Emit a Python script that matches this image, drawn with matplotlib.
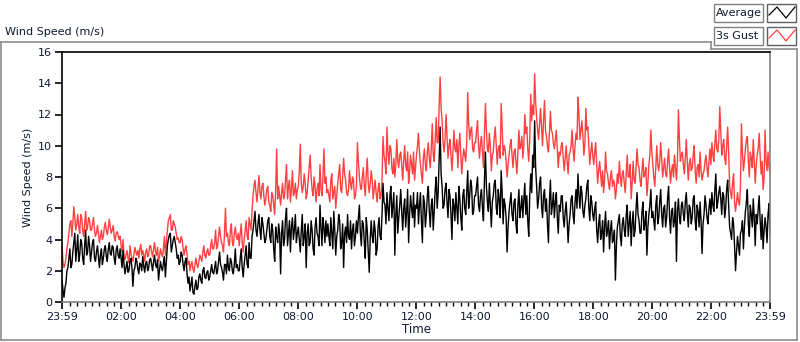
import numpy as np
import matplotlib
matplotlib.use("Agg")
import matplotlib.pyplot as plt
from matplotlib.patches import Rectangle
from matplotlib.lines import Line2D

# ---- data: 2-minute samples starting 23:59, one row per hour ----
# "a" rows hold minutes 0,4,8,...,56 of each hour, "b" rows minutes 2,6,...,58
average_a = [
    [1.4, 0.3, 1.2, 2.2, 3.4, 2.4, 3.8, 2.6, 4.3, 3.0, 3.8, 2.4, 4.6, 3.2, 3.6],
    [3.2, 4.0, 2.6, 3.6, 2.2, 3.4, 2.8, 3.6, 2.6, 3.8, 3.0, 3.5, 2.4, 3.6, 2.8],
    [2.8, 3.3, 1.8, 2.6, 2.0, 2.8, 1.0, 2.2, 2.6, 1.8, 2.4, 2.9, 1.9, 2.6, 2.2],
    [2.8, 2.0, 3.0, 2.2, 1.4, 2.6, 2.0, 2.9, 2.6, 4.0, 4.4, 3.6, 4.2, 3.4, 3.0],
    [2.6, 3.0, 2.0, 2.8, 1.2, 0.7, 1.6, 0.5, 1.4, 0.9, 1.8, 1.2, 2.2, 1.5, 2.0],
    [1.6, 2.4, 1.8, 2.6, 2.0, 3.2, 2.2, 1.4, 2.4, 3.0, 2.0, 2.6, 1.8, 3.4, 2.4],
    [2.0, 3.4, 1.6, 3.0, 2.4, 3.8, 2.8, 4.6, 5.8, 4.2, 5.6, 4.0, 5.0, 3.8, 4.6],
    [5.4, 3.8, 4.6, 2.6, 4.2, 5.0, 1.8, 5.2, 4.0, 6.0, 4.4, 3.2, 5.4, 4.6, 3.8],
    [4.8, 3.2, 5.6, 4.2, 2.2, 5.0, 3.8, 4.6, 3.0, 5.4, 4.2, 6.2, 3.6, 4.8, 5.2],
    [5.0, 3.6, 4.4, 5.8, 3.0, 4.6, 5.2, 3.8, 2.2, 4.8, 5.6, 4.0, 3.4, 5.0, 4.2],
    [4.4, 6.2, 3.6, 5.0, 2.8, 4.6, 1.9, 5.2, 3.8, 4.6, 3.4, 5.4, 4.0, 7.6, 6.2],
    [7.0, 5.2, 7.4, 6.2, 3.0, 6.8, 5.4, 7.2, 4.6, 6.6, 5.8, 3.8, 6.8, 5.4, 4.8],
    [6.0, 5.0, 7.0, 3.8, 6.4, 5.6, 7.4, 4.8, 6.6, 5.8, 8.0, 7.0, 11.2, 7.4, 6.2],
    [7.6, 5.4, 6.8, 4.0, 6.2, 7.0, 5.0, 6.6, 4.6, 7.2, 5.6, 8.4, 6.8, 7.4, 5.8],
    [6.8, 8.0, 5.8, 7.2, 5.2, 9.6, 6.4, 7.6, 4.8, 6.8, 7.8, 5.6, 6.6, 8.4, 5.0],
    [6.2, 3.2, 5.8, 7.0, 5.2, 6.6, 4.4, 7.2, 6.0, 5.4, 7.6, 6.8, 4.2, 8.2, 9.4],
    [11.6, 7.4, 6.6, 8.0, 5.4, 7.2, 6.6, 3.8, 7.8, 6.2, 5.4, 7.0, 4.4, 5.8, 6.8],
    [4.8, 6.4, 3.8, 5.6, 6.8, 5.0, 7.2, 8.2, 6.0, 7.0, 5.4, 6.6, 7.8, 5.2, 6.4],
    [5.2, 6.4, 3.8, 5.6, 4.4, 3.2, 5.8, 4.6, 3.4, 5.2, 4.0, 1.4, 4.8, 5.6, 3.6],
    [5.4, 4.2, 6.2, 5.0, 3.6, 5.8, 4.6, 7.0, 5.2, 4.4, 6.4, 5.0, 3.0, 5.6, 7.2],
    [5.8, 4.6, 6.8, 5.4, 7.2, 4.8, 6.2, 5.4, 7.4, 4.4, 6.0, 5.2, 2.6, 6.6, 5.0],
    [6.4, 5.2, 7.0, 4.8, 6.0, 5.4, 6.8, 4.6, 5.8, 6.4, 3.1, 5.6, 6.2, 5.0, 6.6],
    [7.0, 5.8, 8.2, 6.4, 7.4, 5.6, 6.8, 6.0, 7.8, 4.8, 4.0, 5.0, 2.0, 4.2, 3.0],
    [4.6, 3.4, 5.8, 7.2, 4.2, 5.6, 6.6, 3.6, 5.0, 6.8, 4.0, 3.4, 5.4, 3.8, 6.3],
]
average_b = [
    [0.8, 0.9, 2.0, 2.8, 2.2, 3.2, 4.4, 3.4, 2.6, 4.0, 2.8, 3.6, 3.0, 4.2, 2.6],
    [3.8, 2.8, 3.2, 2.9, 3.0, 2.4, 3.4, 2.9, 3.4, 3.1, 3.6, 2.8, 3.3, 3.0, 3.4],
    [2.2, 2.4, 2.2, 1.9, 2.6, 2.2, 2.0, 2.8, 2.1, 2.5, 2.0, 2.3, 2.5, 2.0, 2.7],
    [2.4, 2.6, 2.4, 2.7, 2.0, 2.2, 2.5, 1.6, 3.6, 4.3, 3.2, 4.0, 3.8, 2.8, 2.4],
    [3.2, 2.4, 2.6, 1.8, 1.6, 1.1, 0.6, 1.0, 0.8, 1.6, 1.4, 2.0, 1.6, 1.9, 1.4],
    [2.0, 1.9, 2.2, 1.8, 2.6, 2.4, 1.9, 2.4, 1.8, 2.2, 2.8, 2.0, 2.4, 2.2, 2.0],
    [2.8, 2.2, 2.4, 3.6, 2.2, 2.8, 4.2, 5.2, 4.6, 5.0, 4.6, 5.4, 4.4, 4.0, 5.2],
    [4.2, 5.0, 3.4, 4.8, 3.8, 4.4, 4.4, 3.6, 5.4, 3.6, 5.2, 4.8, 4.0, 5.6, 4.4],
    [4.0, 4.6, 3.6, 5.0, 4.4, 3.6, 5.2, 3.4, 4.8, 4.4, 3.6, 4.8, 5.4, 3.8, 4.2],
    [4.2, 5.4, 3.4, 4.6, 4.2, 5.6, 3.4, 5.0, 4.4, 3.8, 4.2, 5.2, 4.6, 3.6, 5.2],
    [5.4, 4.4, 5.2, 3.8, 5.4, 3.2, 4.0, 4.2, 5.2, 3.0, 4.8, 4.2, 5.6, 6.4, 5.0],
    [6.0, 6.8, 5.4, 7.0, 5.6, 4.4, 6.2, 5.8, 6.0, 4.8, 7.2, 5.6, 6.0, 7.0, 6.2],
    [7.0, 6.2, 5.2, 6.8, 4.8, 6.8, 5.8, 6.2, 4.6, 7.2, 6.0, 9.0, 8.2, 6.0, 7.2],
    [6.4, 7.2, 5.6, 6.6, 5.2, 6.0, 7.4, 5.4, 6.8, 6.0, 7.0, 6.0, 7.8, 5.6, 6.8],
    [7.4, 6.2, 6.8, 6.0, 7.8, 7.4, 5.8, 6.2, 6.4, 7.6, 6.0, 7.2, 5.4, 7.0, 6.6],
    [5.4, 4.8, 6.4, 5.6, 6.4, 5.0, 6.2, 5.4, 6.8, 6.6, 5.6, 5.2, 6.8, 7.0, 8.6],
    [8.6, 6.0, 7.6, 6.2, 6.8, 5.8, 5.0, 6.4, 5.6, 7.0, 6.4, 5.4, 6.2, 6.8, 5.4],
    [5.8, 5.2, 5.0, 6.6, 5.6, 6.4, 6.0, 6.8, 7.4, 5.8, 6.2, 7.4, 6.0, 6.8, 5.6],
    [6.0, 4.6, 5.0, 4.0, 5.2, 4.8, 4.2, 5.2, 4.6, 3.8, 4.6, 3.6, 5.2, 4.2, 5.0],
    [4.6, 5.6, 4.2, 5.8, 5.0, 4.2, 6.0, 5.6, 4.4, 5.8, 4.6, 5.8, 4.8, 6.2, 5.4],
    [5.2, 6.2, 5.0, 6.4, 5.6, 6.0, 4.8, 6.6, 5.4, 5.8, 4.8, 6.4, 5.8, 5.4, 6.2],
    [5.6, 6.4, 5.8, 6.2, 5.0, 6.6, 5.2, 6.2, 4.8, 5.2, 5.0, 6.8, 5.4, 6.0, 5.6],
    [6.2, 7.2, 6.0, 7.0, 6.6, 7.0, 5.4, 7.2, 6.2, 4.4, 5.4, 3.6, 3.2, 3.6, 4.4],
    [5.2, 4.8, 6.4, 5.0, 6.2, 4.8, 5.4, 5.6, 6.0, 5.2, 5.6, 4.6, 4.8, 5.6, 4.2],
]
gust_a = [
    [3.6, 2.2, 2.8, 3.8, 5.0, 4.2, 6.1, 4.6, 5.6, 4.4, 5.4, 4.2, 5.8, 4.8, 5.2],
    [4.6, 5.4, 4.2, 4.9, 3.8, 4.6, 4.2, 5.1, 4.3, 5.3, 4.4, 4.9, 3.9, 4.5, 4.0],
    [3.6, 4.0, 2.7, 3.3, 2.5, 3.1, 2.6, 3.5, 3.0, 2.8, 3.7, 3.3, 2.6, 3.4, 3.0],
    [3.6, 2.9, 3.8, 3.0, 2.6, 3.4, 2.9, 4.2, 3.8, 5.2, 5.6, 4.6, 5.0, 4.4, 4.1],
    [3.8, 4.0, 3.0, 3.6, 2.4, 2.0, 2.6, 1.9, 2.8, 2.2, 3.0, 2.6, 3.6, 2.8, 3.4],
    [3.0, 4.0, 3.4, 4.6, 3.6, 4.8, 3.8, 3.2, 6.0, 4.4, 3.6, 5.0, 3.6, 4.8, 4.0],
    [3.6, 5.0, 3.2, 4.6, 4.2, 5.4, 4.6, 6.8, 7.8, 6.4, 8.1, 6.6, 7.6, 6.2, 7.2],
    [6.4, 5.8, 6.8, 5.6, 9.8, 7.4, 6.2, 7.6, 6.8, 8.8, 7.4, 6.4, 8.4, 7.0, 6.6],
    [7.4, 10.1, 7.0, 8.2, 6.6, 7.8, 9.4, 7.2, 8.0, 6.4, 7.6, 8.8, 6.8, 9.8, 8.0],
    [7.2, 6.4, 8.2, 7.0, 6.0, 7.6, 8.8, 7.0, 9.2, 7.8, 6.8, 8.4, 7.2, 7.8, 6.8],
    [10.2, 8.0, 7.2, 8.6, 6.8, 9.2, 7.0, 8.4, 6.6, 7.8, 6.4, 7.6, 6.8, 10.6, 9.0],
    [11.2, 8.8, 9.8, 8.2, 8.0, 10.4, 8.6, 9.6, 7.8, 10.0, 8.4, 7.6, 9.4, 8.2, 7.8],
    [9.4, 10.8, 8.8, 7.6, 9.8, 8.4, 10.2, 8.6, 11.4, 9.0, 11.8, 10.2, 14.4, 11.6, 9.6],
    [12.0, 9.2, 10.4, 8.4, 11.0, 9.6, 8.6, 10.8, 8.2, 9.8, 9.0, 13.4, 10.4, 11.2, 9.6],
    [10.2, 11.6, 9.2, 10.6, 8.6, 12.7, 9.8, 10.8, 8.4, 9.6, 11.2, 8.8, 10.0, 12.7, 9.4],
    [9.8, 8.0, 9.4, 10.4, 8.6, 9.8, 8.2, 11.0, 10.0, 9.2, 12.0, 11.2, 9.0, 13.3, 12.6],
    [14.6, 11.8, 10.4, 12.4, 10.0, 12.9, 10.6, 9.6, 12.2, 10.8, 9.8, 11.0, 8.6, 9.4, 10.2],
    [8.4, 10.0, 8.2, 9.6, 11.0, 9.0, 10.8, 13.1, 10.4, 11.6, 9.4, 12.4, 11.2, 8.8, 10.2],
    [8.8, 10.2, 7.6, 9.0, 7.4, 7.0, 9.6, 8.2, 7.2, 8.4, 7.8, 6.6, 8.2, 9.0, 7.4],
    [8.4, 7.0, 9.4, 8.0, 6.6, 9.0, 7.6, 9.8, 8.6, 7.4, 9.2, 8.2, 6.8, 8.8, 11.0],
    [8.8, 7.4, 10.0, 8.4, 10.2, 8.0, 9.2, 8.0, 9.8, 7.6, 8.8, 9.4, 7.8, 12.3, 9.0],
    [9.6, 8.2, 10.4, 7.8, 9.2, 8.6, 10.0, 7.6, 8.8, 9.6, 7.8, 8.4, 9.4, 8.0, 9.8],
    [10.2, 9.0, 11.0, 9.6, 12.5, 9.4, 10.4, 8.8, 11.2, 7.4, 6.6, 8.2, 5.8, 7.0, 6.2],
    [11.4, 8.4, 9.8, 10.6, 8.0, 9.2, 10.4, 7.6, 9.4, 10.8, 8.2, 7.2, 11.0, 8.4, 8.6],
]
gust_b = [
    [2.6, 2.4, 3.4, 4.4, 5.2, 5.0, 5.4, 5.0, 4.8, 5.6, 4.6, 5.0, 4.6, 5.4, 4.6],
    [5.0, 4.6, 4.4, 4.4, 4.2, 4.0, 4.8, 4.6, 4.7, 4.8, 4.6, 4.2, 4.4, 4.3, 4.2],
    [3.2, 3.0, 3.0, 2.8, 3.6, 2.8, 3.0, 3.2, 3.3, 3.4, 3.0, 3.0, 3.2, 2.9, 3.6],
    [3.2, 3.4, 3.2, 3.5, 2.9, 3.1, 3.4, 3.0, 4.6, 5.4, 4.6, 5.2, 4.8, 4.0, 3.8],
    [4.2, 3.4, 3.4, 3.0, 2.6, 2.4, 2.1, 2.4, 2.4, 2.6, 2.8, 3.2, 3.0, 3.2, 3.0],
    [3.6, 3.4, 3.8, 3.4, 4.2, 4.2, 3.6, 4.4, 4.2, 3.8, 4.6, 3.8, 4.4, 4.2, 4.4],
    [4.4, 3.8, 4.0, 5.2, 4.0, 5.0, 5.8, 7.4, 7.0, 7.2, 7.0, 7.4, 6.8, 6.6, 7.4],
    [6.2, 7.0, 6.2, 7.2, 6.6, 6.8, 7.0, 6.6, 7.8, 6.6, 7.8, 7.2, 6.8, 7.6, 7.2],
    [8.4, 7.6, 7.4, 7.6, 7.0, 8.6, 8.0, 6.8, 7.4, 7.2, 6.8, 7.2, 8.0, 7.6, 7.0],
    [6.8, 7.8, 6.6, 7.4, 6.8, 8.2, 7.2, 8.0, 8.2, 7.0, 7.2, 7.6, 8.0, 6.6, 7.4],
    [9.0, 7.4, 8.0, 7.4, 8.2, 7.6, 7.6, 7.8, 7.2, 7.0, 7.2, 6.6, 7.8, 9.4, 8.2],
    [9.6, 10.0, 8.6, 9.2, 8.8, 9.0, 9.4, 8.8, 9.0, 8.8, 9.6, 8.4, 8.8, 9.6, 8.6],
    [10.0, 9.6, 8.2, 9.2, 8.8, 9.6, 9.2, 9.8, 9.4, 10.4, 10.2, 12.6, 12.4, 10.2, 10.4],
    [10.6, 10.0, 9.4, 9.6, 9.8, 10.4, 10.0, 9.4, 9.2, 9.4, 10.2, 11.4, 11.0, 9.8, 10.2],
    [11.0, 10.0, 10.2, 9.6, 10.8, 11.0, 9.6, 10.0, 9.4, 10.6, 10.0, 9.8, 9.2, 11.2, 10.0],
    [9.0, 8.8, 10.0, 9.4, 9.6, 9.0, 9.6, 9.8, 10.6, 10.0, 10.8, 9.8, 10.4, 11.6, 12.0],
    [12.8, 11.0, 11.4, 11.2, 11.6, 11.0, 10.0, 10.8, 11.0, 10.2, 10.4, 9.8, 9.6, 10.0, 9.2],
    [9.2, 9.0, 9.4, 10.0, 9.8, 10.0, 10.4, 12.0, 11.0, 10.6, 10.2, 11.0, 10.0, 9.6, 9.4],
    [9.6, 8.8, 8.4, 8.2, 8.4, 7.8, 8.4, 7.6, 8.0, 7.4, 7.6, 7.2, 7.6, 8.0, 8.2],
    [7.6, 8.2, 8.0, 8.8, 7.6, 7.8, 8.6, 8.8, 7.8, 8.4, 8.0, 8.6, 7.6, 9.4, 9.6],
    [8.0, 8.6, 8.8, 9.0, 9.2, 8.6, 8.2, 9.0, 8.6, 8.4, 8.0, 8.6, 9.0, 10.4, 9.4],
    [8.8, 9.2, 9.0, 8.8, 8.4, 9.4, 8.4, 8.6, 8.0, 8.4, 8.2, 9.0, 8.6, 9.0, 8.8],
    [9.4, 10.2, 9.8, 10.4, 11.0, 10.0, 9.2, 10.0, 9.6, 7.0, 7.6, 6.4, 6.4, 6.4, 7.4],
    [9.6, 9.0, 10.4, 9.0, 9.6, 8.6, 9.0, 8.8, 9.8, 9.4, 9.0, 8.0, 9.0, 9.6, 8.2],
]
tick_labels = ["23:59", "02:00", "04:00", "06:00", "08:00", "10:00", "12:00",
               "14:00", "16:00", "18:00", "20:00", "22:00", "23:59"]
y_ticks = [0, 2, 4, 6, 8, 10, 12, 14, 16]


def interleave(a_rows, b_rows):
    out = []
    for ra, rb in zip(a_rows, b_rows):
        for va, vb in zip(ra, rb):
            out.extend([va, vb])
    return np.array(out)


average = interleave(average_a, average_b)
gust = interleave(gust_a, gust_b)
t = np.linspace(0, 1440, len(average))  # minutes after 23:59

W, H = 800, 342
fig = plt.figure(figsize=(W / 100, H / 100), dpi=100)
plt.rcParams['font.family'] = ['DejaVu Sans']
txtc = '#101830'


def fx(x):
    return x / W


def fy(y):
    return 1 - y / H


ax = fig.add_axes([fx(62), fy(302), fx(770) - fx(62), fy(52) - fy(302)])
ax.plot(t, gust, color='#ff4040', lw=1.0)
ax.plot(t, average, color='black', lw=1.0)
ax.set_xlim(0, 1440)
ax.set_ylim(0, 16)

major = [0] + [1 + 120 * k for k in range(1, 12)] + [1440]
ax.set_xticks(major)
ax.set_xticklabels(tick_labels)
ax.set_xticks([1 + 15 * k for k in range(96) if (1 + 15 * k) % 120 != 1], minor=True)
ax.set_yticks(y_ticks)
ax.tick_params(axis='both', which='major', labelsize=8, colors='black', labelcolor=txtc,
               length=5, width=1.2, direction='out', pad=2)
ax.tick_params(axis='x', which='minor', length=3, width=1, color='black')
for s in ['top', 'left']:
    ax.spines[s].set_color('black')
for s in ['bottom', 'right']:
    ax.spines[s].set_color('#808080')
for s in ax.spines.values():
    s.set_linewidth(1.2)
ax.set_ylabel('Wind Speed (m/s)', fontsize=8, color=txtc, labelpad=4)
ax.set_xlabel('Time', fontsize=8.5, color=txtc, labelpad=1)

# outer frame & title
g = '#8c8c8c'
for (x0, y0, x1, y1) in [(1, 42, 711, 42), (711, 42, 711, 49), (711, 49, 797, 49),
                         (797, 49, 797, 340), (1, 340, 797, 340), (1, 42, 1, 340)]:
    fig.add_artist(Line2D([fx(x0), fx(x1)], [fy(y0), fy(y1)], color=g, lw=1.2))
fig.text(fx(5), fy(32), 'Wind Speed (m/s)', fontsize=8, color=txtc, va='center', ha='left')

# legend
for yy, name, col in [(4, 'Average', 'black'), (27, '3s Gust', '#ff4040')]:
    fig.add_artist(Rectangle((fx(714), fy(yy + 18)), fx(763) - fx(714), fy(yy) - fy(yy + 18),
                             facecolor='white', edgecolor='#808080', lw=1))
    fig.text(fx(716), fy(yy + 9), name, fontsize=8, color=txtc, va='center', ha='left')
    x0, x1, ytop, ybot = 767, 796, yy, yy + 18
    fig.add_artist(Rectangle((fx(x0), fy(ybot)), fx(x1) - fx(x0), fy(ytop) - fy(ybot),
                             facecolor='white', edgecolor='#606060', lw=1))
    px = [x0 + 2, x0 + 10, x0 + 19, x0 + 28]
    py = [ytop + 11, ytop + 3, ytop + 14, ytop + 3]
    fig.add_artist(Line2D([fx(p) for p in px], [fy(p) for p in py], color=col, lw=0.9))

fig.savefig('out.png', dpi=100)
